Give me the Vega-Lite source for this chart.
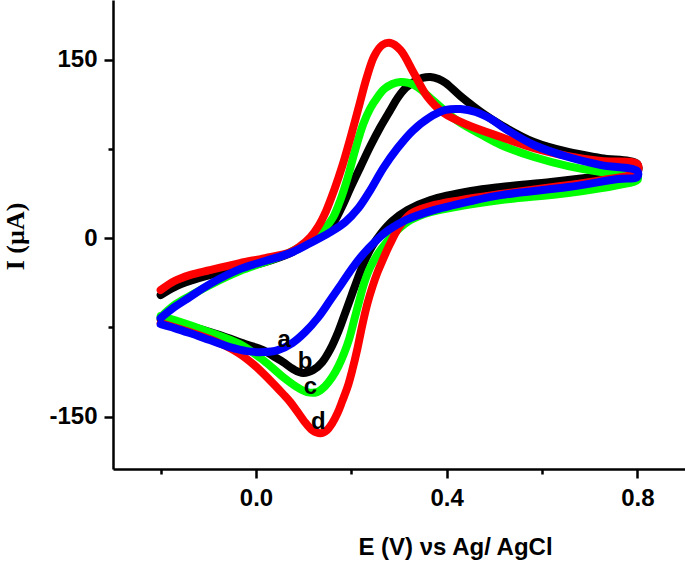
{
  "$schema": "https://vega.github.io/schema/vega-lite/v6.json",
  "width": 572,
  "height": 469,
  "autosize": {"type": "none"},
  "padding": {"left": 113, "top": 0, "right": 0, "bottom": 93},
  "background": "white",
  "config": {"view": {"stroke": null}},
  "datasets": {
    "cv": [
      {"curve":"b","n":1,"E":-0.2,"I":-47.9},
      {"curve":"b","n":2,"E":-0.171,"I":-41.2},
      {"curve":"b","n":3,"E":-0.139,"I":-36.1},
      {"curve":"b","n":4,"E":-0.097,"I":-31.1},
      {"curve":"b","n":5,"E":-0.034,"I":-25.2},
      {"curve":"b","n":6,"E":0.019,"I":-20.2},
      {"curve":"b","n":7,"E":0.072,"I":-12.6},
      {"curve":"b","n":8,"E":0.114,"I":-3.4},
      {"curve":"b","n":9,"E":0.135,"I":1.7},
      {"curve":"b","n":10,"E":0.152,"I":7.6},
      {"curve":"b","n":11,"E":0.166,"I":15.1},
      {"curve":"b","n":12,"E":0.181,"I":26.9},
      {"curve":"b","n":13,"E":0.198,"I":42.0},
      {"curve":"b","n":14,"E":0.219,"I":59.7},
      {"curve":"b","n":15,"E":0.24,"I":77.3},
      {"curve":"b","n":16,"E":0.261,"I":93.3},
      {"curve":"b","n":17,"E":0.282,"I":107.6},
      {"curve":"b","n":18,"E":0.297,"I":117.6},
      {"curve":"b","n":19,"E":0.314,"I":126.1},
      {"curve":"b","n":20,"E":0.331,"I":131.1},
      {"curve":"b","n":21,"E":0.349,"I":134.5},
      {"curve":"b","n":22,"E":0.366,"I":135.3},
      {"curve":"b","n":23,"E":0.383,"I":133.6},
      {"curve":"b","n":24,"E":0.398,"I":130.3},
      {"curve":"b","n":25,"E":0.429,"I":119.3},
      {"curve":"b","n":26,"E":0.478,"I":104.2},
      {"curve":"b","n":27,"E":0.514,"I":95.0},
      {"curve":"b","n":28,"E":0.583,"I":80.7},
      {"curve":"b","n":29,"E":0.655,"I":72.3},
      {"curve":"b","n":30,"E":0.724,"I":67.2},
      {"curve":"b","n":31,"E":0.8,"I":62.2},
      {"curve":"b","n":32,"E":0.8,"I":55.5},
      {"curve":"b","n":33,"E":0.709,"I":51.3},
      {"curve":"b","n":34,"E":0.619,"I":47.1},
      {"curve":"b","n":35,"E":0.514,"I":42.9},
      {"curve":"b","n":36,"E":0.451,"I":39.5},
      {"curve":"b","n":37,"E":0.366,"I":31.9},
      {"curve":"b","n":38,"E":0.318,"I":23.5},
      {"curve":"b","n":39,"E":0.286,"I":14.3},
      {"curve":"b","n":40,"E":0.263,"I":4.2},
      {"curve":"b","n":41,"E":0.244,"I":-6.7},
      {"curve":"b","n":42,"E":0.227,"I":-20.2},
      {"curve":"b","n":43,"E":0.213,"I":-34.5},
      {"curve":"b","n":44,"E":0.2,"I":-48.7},
      {"curve":"b","n":45,"E":0.187,"I":-63.0},
      {"curve":"b","n":46,"E":0.173,"I":-78.2},
      {"curve":"b","n":47,"E":0.156,"I":-93.3},
      {"curve":"b","n":48,"E":0.139,"I":-104.2},
      {"curve":"b","n":49,"E":0.12,"I":-110.9},
      {"curve":"b","n":50,"E":0.099,"I":-113.4},
      {"curve":"b","n":51,"E":0.078,"I":-110.1},
      {"curve":"b","n":52,"E":0.057,"I":-104.2},
      {"curve":"b","n":53,"E":0.036,"I":-99.2},
      {"curve":"b","n":54,"E":0.015,"I":-94.1},
      {"curve":"b","n":55,"E":-0.023,"I":-89.1},
      {"curve":"b","n":56,"E":-0.076,"I":-81.5},
      {"curve":"b","n":57,"E":-0.139,"I":-73.9},
      {"curve":"b","n":58,"E":-0.2,"I":-68.1},

      {"curve":"c","n":1,"E":-0.2,"I":-66.4},
      {"curve":"c","n":2,"E":-0.171,"I":-56.3},
      {"curve":"c","n":3,"E":-0.139,"I":-48.7},
      {"curve":"c","n":4,"E":-0.097,"I":-39.5},
      {"curve":"c","n":5,"E":-0.034,"I":-27.7},
      {"curve":"c","n":6,"E":0.019,"I":-20.2},
      {"curve":"c","n":7,"E":0.072,"I":-11.8},
      {"curve":"c","n":8,"E":0.103,"I":-5.0},
      {"curve":"c","n":9,"E":0.124,"I":0.8},
      {"curve":"c","n":10,"E":0.145,"I":8.4},
      {"curve":"c","n":11,"E":0.162,"I":17.6},
      {"curve":"c","n":12,"E":0.177,"I":31.9},
      {"curve":"c","n":13,"E":0.192,"I":50.4},
      {"curve":"c","n":14,"E":0.208,"I":73.9},
      {"curve":"c","n":15,"E":0.225,"I":95.8},
      {"curve":"c","n":16,"E":0.24,"I":109.2},
      {"curve":"c","n":17,"E":0.255,"I":118.5},
      {"curve":"c","n":18,"E":0.269,"I":125.2},
      {"curve":"c","n":19,"E":0.286,"I":129.4},
      {"curve":"c","n":20,"E":0.303,"I":131.1},
      {"curve":"c","n":21,"E":0.32,"I":130.3},
      {"curve":"c","n":22,"E":0.339,"I":126.9},
      {"curve":"c","n":23,"E":0.373,"I":115.1},
      {"curve":"c","n":24,"E":0.423,"I":98.3},
      {"curve":"c","n":25,"E":0.478,"I":85.7},
      {"curve":"c","n":26,"E":0.514,"I":78.2},
      {"curve":"c","n":27,"E":0.583,"I":68.1},
      {"curve":"c","n":28,"E":0.655,"I":60.5},
      {"curve":"c","n":29,"E":0.724,"I":55.5},
      {"curve":"c","n":30,"E":0.8,"I":52.1},
      {"curve":"c","n":31,"E":0.8,"I":48.7},
      {"curve":"c","n":32,"E":0.76,"I":44.5},
      {"curve":"c","n":33,"E":0.655,"I":37.8},
      {"curve":"c","n":34,"E":0.514,"I":31.9},
      {"curve":"c","n":35,"E":0.429,"I":26.9},
      {"curve":"c","n":36,"E":0.366,"I":21.8},
      {"curve":"c","n":37,"E":0.324,"I":15.1},
      {"curve":"c","n":38,"E":0.297,"I":6.7},
      {"curve":"c","n":39,"E":0.276,"I":-2.5},
      {"curve":"c","n":40,"E":0.257,"I":-12.6},
      {"curve":"c","n":41,"E":0.24,"I":-24.4},
      {"curve":"c","n":42,"E":0.227,"I":-37.8},
      {"curve":"c","n":43,"E":0.217,"I":-52.1},
      {"curve":"c","n":44,"E":0.206,"I":-68.9},
      {"curve":"c","n":45,"E":0.196,"I":-84.0},
      {"curve":"c","n":46,"E":0.185,"I":-96.6},
      {"curve":"c","n":47,"E":0.173,"I":-107.6},
      {"curve":"c","n":48,"E":0.16,"I":-116.8},
      {"curve":"c","n":49,"E":0.145,"I":-124.4},
      {"curve":"c","n":50,"E":0.128,"I":-129.4},
      {"curve":"c","n":51,"E":0.107,"I":-129.4},
      {"curve":"c","n":52,"E":0.086,"I":-125.2},
      {"curve":"c","n":53,"E":0.057,"I":-116.8},
      {"curve":"c","n":54,"E":0.015,"I":-102.5},
      {"curve":"c","n":55,"E":-0.034,"I":-89.1},
      {"curve":"c","n":56,"E":-0.103,"I":-78.2},
      {"curve":"c","n":57,"E":-0.171,"I":-68.9},
      {"curve":"c","n":58,"E":-0.2,"I":-65.5},

      {"curve":"d","n":1,"E":-0.2,"I":-43.7},
      {"curve":"d","n":2,"E":-0.171,"I":-36.1},
      {"curve":"d","n":3,"E":-0.139,"I":-31.1},
      {"curve":"d","n":4,"E":-0.097,"I":-26.9},
      {"curve":"d","n":5,"E":-0.034,"I":-21.0},
      {"curve":"d","n":6,"E":0.019,"I":-16.8},
      {"curve":"d","n":7,"E":0.072,"I":-11.8},
      {"curve":"d","n":8,"E":0.093,"I":-6.7},
      {"curve":"d","n":9,"E":0.114,"I":0.8},
      {"curve":"d","n":10,"E":0.131,"I":10.1},
      {"curve":"d","n":11,"E":0.147,"I":22.7},
      {"curve":"d","n":12,"E":0.164,"I":40.3},
      {"curve":"d","n":13,"E":0.181,"I":60.5},
      {"curve":"d","n":14,"E":0.198,"I":84.0},
      {"curve":"d","n":15,"E":0.215,"I":109.2},
      {"curve":"d","n":16,"E":0.232,"I":134.5},
      {"curve":"d","n":17,"E":0.248,"I":152.9},
      {"curve":"d","n":18,"E":0.265,"I":162.2},
      {"curve":"d","n":19,"E":0.282,"I":163.9},
      {"curve":"d","n":20,"E":0.303,"I":158.0},
      {"curve":"d","n":21,"E":0.331,"I":138.7},
      {"curve":"d","n":22,"E":0.36,"I":118.5},
      {"curve":"d","n":23,"E":0.394,"I":105.0},
      {"curve":"d","n":24,"E":0.444,"I":95.0},
      {"curve":"d","n":25,"E":0.514,"I":84.9},
      {"curve":"d","n":26,"E":0.583,"I":75.6},
      {"curve":"d","n":27,"E":0.655,"I":68.9},
      {"curve":"d","n":28,"E":0.724,"I":64.7},
      {"curve":"d","n":29,"E":0.8,"I":62.2},
      {"curve":"d","n":30,"E":0.8,"I":55.5},
      {"curve":"d","n":31,"E":0.724,"I":48.7},
      {"curve":"d","n":32,"E":0.64,"I":43.7},
      {"curve":"d","n":33,"E":0.514,"I":37.0},
      {"curve":"d","n":34,"E":0.429,"I":31.9},
      {"curve":"d","n":35,"E":0.366,"I":26.9},
      {"curve":"d","n":36,"E":0.324,"I":20.2},
      {"curve":"d","n":37,"E":0.299,"I":8.4},
      {"curve":"d","n":38,"E":0.28,"I":-5.9},
      {"curve":"d","n":39,"E":0.263,"I":-21.0},
      {"curve":"d","n":40,"E":0.255,"I":-28.6},
      {"curve":"d","n":41,"E":0.244,"I":-41.2},
      {"curve":"d","n":42,"E":0.234,"I":-54.6},
      {"curve":"d","n":43,"E":0.223,"I":-73.1},
      {"curve":"d","n":44,"E":0.213,"I":-92.4},
      {"curve":"d","n":45,"E":0.202,"I":-110.9},
      {"curve":"d","n":46,"E":0.192,"I":-125.2},
      {"curve":"d","n":47,"E":0.181,"I":-137.0},
      {"curve":"d","n":48,"E":0.171,"I":-147.1},
      {"curve":"d","n":49,"E":0.16,"I":-155.5},
      {"curve":"d","n":50,"E":0.149,"I":-161.3},
      {"curve":"d","n":51,"E":0.135,"I":-163.9},
      {"curve":"d","n":52,"E":0.118,"I":-161.3},
      {"curve":"d","n":53,"E":0.101,"I":-153.8},
      {"curve":"d","n":54,"E":0.086,"I":-145.4},
      {"curve":"d","n":55,"E":0.072,"I":-137.8},
      {"curve":"d","n":56,"E":0.057,"I":-131.1},
      {"curve":"d","n":57,"E":0.029,"I":-119.3},
      {"curve":"d","n":58,"E":-0.006,"I":-105.9},
      {"curve":"d","n":59,"E":-0.04,"I":-95.8},
      {"curve":"d","n":60,"E":-0.086,"I":-86.6},
      {"curve":"d","n":61,"E":-0.139,"I":-79.0},
      {"curve":"d","n":62,"E":-0.2,"I":-71.4},

      {"curve":"a","n":1,"E":-0.2,"I":-67.2},
      {"curve":"a","n":2,"E":-0.171,"I":-58.0},
      {"curve":"a","n":3,"E":-0.139,"I":-49.6},
      {"curve":"a","n":4,"E":-0.097,"I":-38.7},
      {"curve":"a","n":5,"E":-0.034,"I":-26.1},
      {"curve":"a","n":6,"E":0.019,"I":-19.3},
      {"curve":"a","n":7,"E":0.072,"I":-12.6},
      {"curve":"a","n":8,"E":0.114,"I":-4.2},
      {"curve":"a","n":9,"E":0.156,"I":5.0},
      {"curve":"a","n":10,"E":0.187,"I":13.4},
      {"curve":"a","n":11,"E":0.215,"I":25.2},
      {"curve":"a","n":12,"E":0.24,"I":40.3},
      {"curve":"a","n":13,"E":0.267,"I":58.8},
      {"curve":"a","n":14,"E":0.297,"I":75.6},
      {"curve":"a","n":15,"E":0.328,"I":89.9},
      {"curve":"a","n":16,"E":0.362,"I":100.8},
      {"curve":"a","n":17,"E":0.398,"I":107.6},
      {"curve":"a","n":18,"E":0.429,"I":108.4},
      {"curve":"a","n":19,"E":0.461,"I":105.9},
      {"curve":"a","n":20,"E":0.493,"I":100.0},
      {"curve":"a","n":21,"E":0.524,"I":91.6},
      {"curve":"a","n":22,"E":0.583,"I":78.2},
      {"curve":"a","n":23,"E":0.655,"I":68.1},
      {"curve":"a","n":24,"E":0.724,"I":61.3},
      {"curve":"a","n":25,"E":0.8,"I":56.3},
      {"curve":"a","n":26,"E":0.8,"I":51.3},
      {"curve":"a","n":27,"E":0.76,"I":49.6},
      {"curve":"a","n":28,"E":0.655,"I":42.9},
      {"curve":"a","n":29,"E":0.514,"I":36.1},
      {"curve":"a","n":30,"E":0.451,"I":31.1},
      {"curve":"a","n":31,"E":0.366,"I":22.7},
      {"curve":"a","n":32,"E":0.314,"I":15.1},
      {"curve":"a","n":33,"E":0.278,"I":6.7},
      {"curve":"a","n":34,"E":0.251,"I":-2.5},
      {"curve":"a","n":35,"E":0.225,"I":-13.4},
      {"curve":"a","n":36,"E":0.202,"I":-25.2},
      {"curve":"a","n":37,"E":0.179,"I":-38.7},
      {"curve":"a","n":38,"E":0.156,"I":-52.1},
      {"curve":"a","n":39,"E":0.131,"I":-66.4},
      {"curve":"a","n":40,"E":0.103,"I":-79.0},
      {"curve":"a","n":41,"E":0.076,"I":-88.2},
      {"curve":"a","n":42,"E":0.046,"I":-94.1},
      {"curve":"a","n":43,"E":0.015,"I":-95.8},
      {"curve":"a","n":44,"E":-0.019,"I":-95.0},
      {"curve":"a","n":45,"E":-0.055,"I":-91.6},
      {"curve":"a","n":46,"E":-0.097,"I":-85.7},
      {"curve":"a","n":47,"E":-0.139,"I":-79.8},
      {"curve":"a","n":48,"E":-0.171,"I":-75.6},
      {"curve":"a","n":49,"E":-0.2,"I":-72.3}
    ],
    "labels": [
      {"lab":"a","E":0.059,"I":-85.7},
      {"lab":"b","E":0.103,"I":-104.2},
      {"lab":"c","E":0.114,"I":-125.2},
      {"lab":"d","E":0.131,"I":-154.6}
    ]
  },
  "layer": [
    {
      "data": {"name": "cv"},
      "mark": {"type": "line", "interpolate": "catmull-rom", "strokeWidth": 8, "strokeCap": "round", "strokeJoin": "round"},
      "encoding": {
        "x": {
          "field": "E", "type": "quantitative",
          "scale": {"domain": [-0.3, 0.9], "nice": false, "zero": false},
          "axis": {
            "title": "E (V) νs Ag/ AgCl",
            "values": [-0.2, 0, 0.2, 0.4, 0.6, 0.8],
            "labelExpr": "abs(round(datum.value*10)) % 4 == 0 ? format(datum.value, '.1f') : ''",
            "grid": false,
            "domainColor": "black", "domainWidth": 2.5,
            "tickColor": "black", "tickWidth": 2.5,
            "tickSize": {"condition": {"test": "abs(round(datum.value*10)) % 4 == 0", "value": 9}, "value": 5},
            "labelFont": "Liberation Sans", "labelFontWeight": "bold", "labelFontSize": 24, "labelColor": "black",
            "labelPadding": 8, "labelFlush": false, "labelOverlap": false,
            "titleFont": "Liberation Sans", "titleFontWeight": "bold", "titleFontSize": 24, "titleColor": "black",
            "titleX": 342, "titleY": 85, "titleAlign": "center", "titleBaseline": "alphabetic"
          }
        },
        "y": {
          "field": "I", "type": "quantitative",
          "scale": {"domain": [-194, 200], "nice": false, "zero": false},
          "axis": {
            "title": "I (µA)",
            "values": [-150, -75, 0, 75, 150],
            "labelExpr": "datum.value % 150 == 0 ? '' + datum.value : ''",
            "grid": false,
            "domainColor": "black", "domainWidth": 2.5,
            "tickColor": "black", "tickWidth": 2.5,
            "tickSize": {"condition": {"test": "datum.value % 150 == 0", "value": 9}, "value": 5},
            "labelFont": "Liberation Sans", "labelFontWeight": "bold", "labelFontSize": 24, "labelColor": "black",
            "labelPadding": 7, "labelFlush": false, "labelOverlap": false,
            "titleFont": "Liberation Serif", "titleFontWeight": "bold", "titleFontSize": 26, "titleColor": "black",
            "titleAngle": 270, "titleX": -98, "titleY": 236, "titleAlign": "center", "titleBaseline": "middle"
          }
        },
        "color": {
          "field": "curve", "type": "nominal",
          "scale": {"domain": ["a", "b", "c", "d"], "range": ["#0000ff", "#000000", "#00ff00", "#ff0000"]},
          "legend": null
        },
        "order": {"field": "n", "type": "quantitative"}
      }
    },
    {
      "data": {"name": "labels"},
      "mark": {"type": "text", "font": "Liberation Sans", "fontWeight": "bold", "fontSize": 24, "color": "black"},
      "encoding": {
        "x": {"field": "E", "type": "quantitative"},
        "y": {"field": "I", "type": "quantitative"},
        "text": {"field": "lab"}
      }
    }
  ]
}
